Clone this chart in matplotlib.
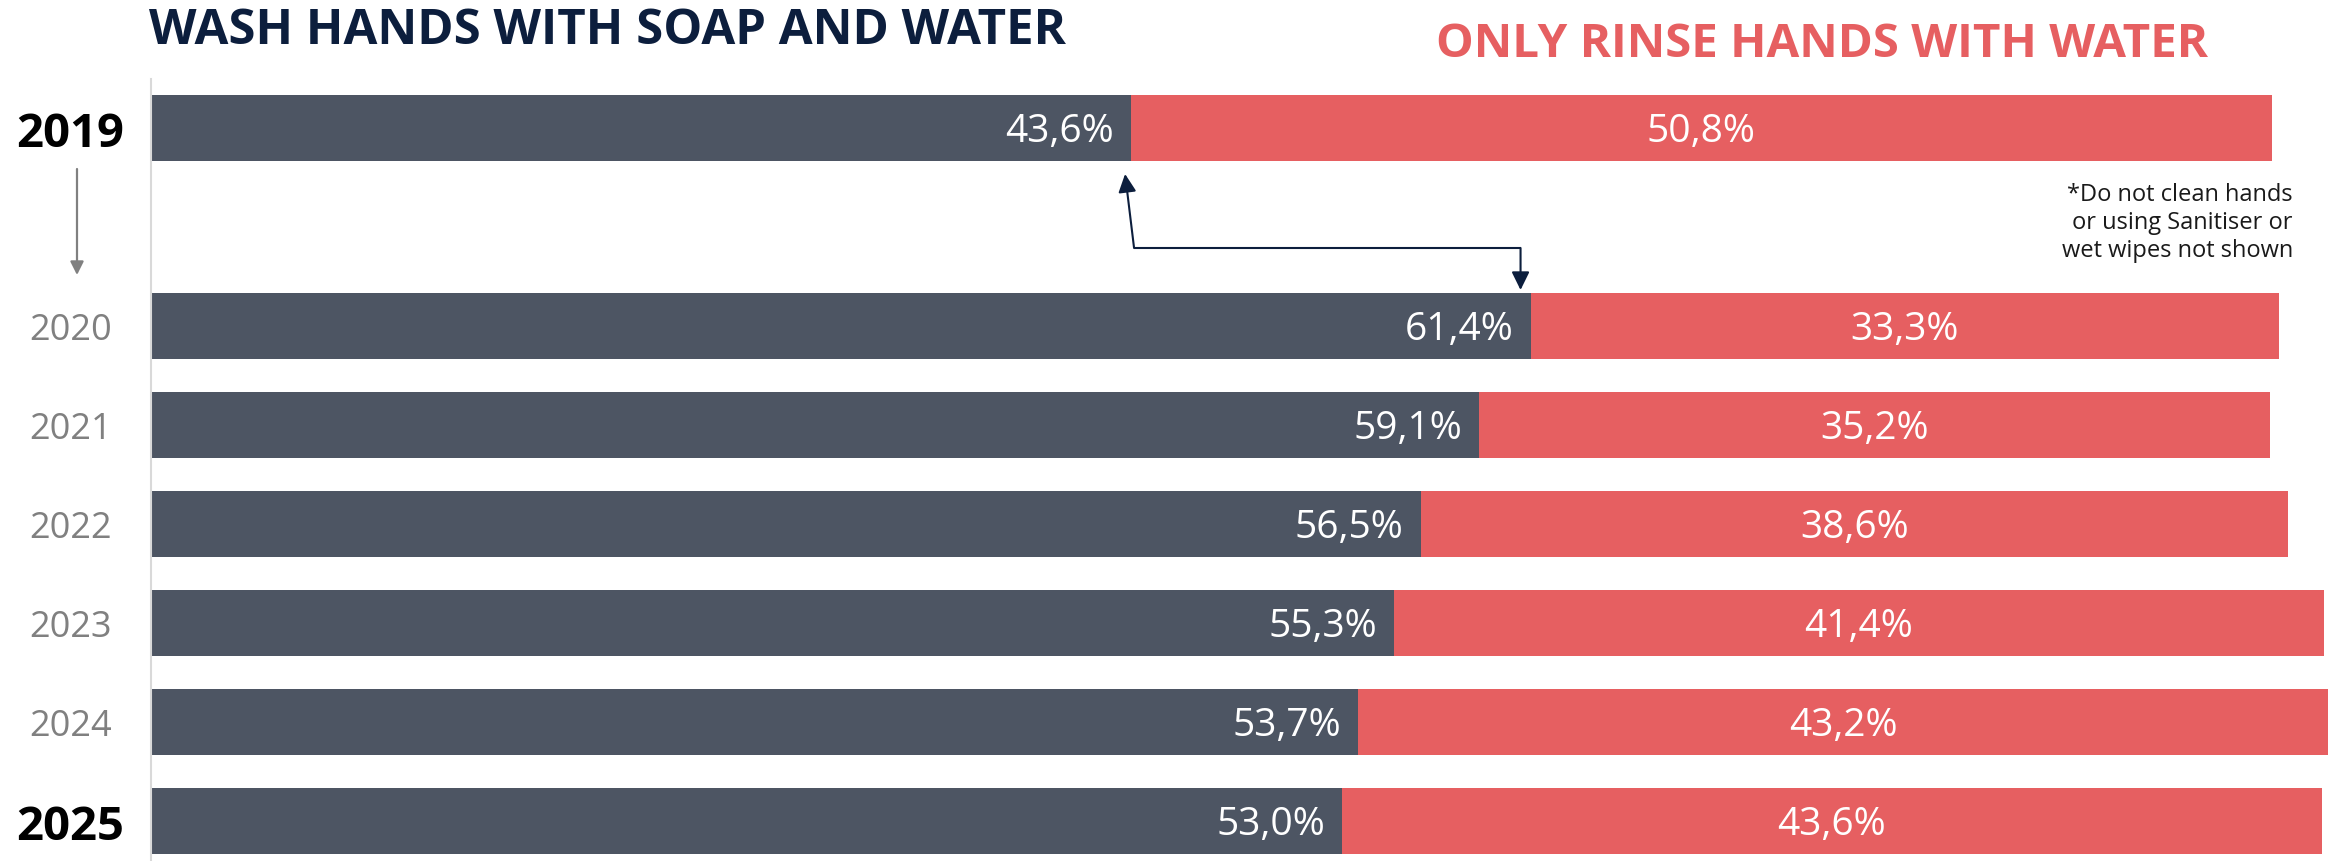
import matplotlib
matplotlib.use('Agg')
import matplotlib.pyplot as plt
from matplotlib.transforms import blended_transform_factory

years = ['2019', '2020', '2021', '2022', '2023', '2024', '2025']
soap = [43.6, 61.4, 59.1, 56.5, 55.3, 53.7, 53.0]
rinse = [50.8, 33.3, 35.2, 38.6, 41.4, 43.2, 43.6]

title_soap = 'WASH HANDS WITH SOAP AND WATER'
title_rinse = 'ONLY RINSE HANDS WITH WATER'
note = '*Do not clean hands\nor using Sanitiser or\nwet wipes not shown'

dark = '#4d5563'
red = '#e65f61'
navy = '#0c1e3d'
grey = '#808080'

plt.rcParams['font.family'] = ['Open Sans', 'DejaVu Sans']

W, H = 2336, 862
fig = plt.figure(figsize=(W / 100, H / 100), dpi=100)
px = 22.47  # pixels per percentage point
x0 = 151
ax = fig.add_axes([x0 / W, 0, 97 * px / W, (H - 80) / H])

# 2019 sits one row apart from the later years
rows = [0] + list(range(2, 2 + len(years) - 1))
ax.set_xlim(0, 97)
ax.set_ylim((H - 129) / 99, (80 - 129) / 99)

ax.barh(rows, soap, height=0.667, color=dark)
ax.barh(rows, rinse, left=soap, height=0.667, color=red)

for r, s, w in zip(rows, soap, rinse):
    ax.text(s - 0.75, r + 0.03, f'{s:.1f}%'.replace('.', ','), color='white',
            fontsize=28, ha='right', va='center')
    ax.text(s + w / 2, r + 0.03, f'{w:.1f}%'.replace('.', ','), color='white',
            fontsize=28, ha='center', va='center')

for side in ['top', 'right', 'bottom']:
    ax.spines[side].set_visible(False)
ax.spines['left'].set_color('#d9d9d9')
ax.spines['left'].set_linewidth(1.5)
ax.set_xticks([])
ax.set_yticks(rows)
ax.set_yticklabels(years)
ax.tick_params(axis='y', length=0, pad=58)
last = len(years) - 1
for i, lab in enumerate(ax.get_yticklabels()):
    lab.set_ha('center')
    if i in (0, last):
        lab.set_fontsize(34)
        lab.set_fontweight('bold')
        lab.set_color('black')
    else:
        lab.set_fontsize(26)
        lab.set_color(grey)

# grey arrow between the 2019 row and the rest
trans = blended_transform_factory(fig.transFigure, ax.transData)
ax.annotate('', xy=(77 / W, (276 - 129) / 99), xytext=(77 / W, (170 - 129) / 99),
            xycoords=trans, textcoords=trans,
            arrowprops=dict(arrowstyle='-|>', color=grey, lw=1.6,
                            mutation_scale=20, shrinkA=0, shrinkB=0))

# elbow arrow linking 2019 and 2020 soap shares
yk = (249 - 129) / 99
xa = soap[0] + 0.15
xb = soap[1] - 0.45
ax.plot([xa, xb], [yk, yk], color=navy, lw=1.5, solid_capstyle='butt')
head = dict(arrowstyle='-|>,head_length=0.55,head_width=0.27', color=navy, lw=1.5,
            mutation_scale=20, shrinkA=0, shrinkB=0)
ax.annotate('', xy=(xa - 0.4, (175 - 129) / 99), xytext=(xa, yk), arrowprops=head)
ax.annotate('', xy=(xb, (291 - 129) / 99), xytext=(xb, yk), arrowprops=head)

fig.text(149 / W, 1 - 44 / H, title_soap, color=navy, fontsize=35.4,
         fontweight='bold', ha='left', va='baseline')
fig.text(1436 / W, 1 - 57 / H, title_rinse, color=red, fontsize=34.2,
         fontweight='bold', ha='left', va='baseline')
fig.text(2293 / W, 1 - 183 / H, note, color='#1a1a1a', fontsize=17,
         ha='right', va='top', linespacing=1.22, multialignment='right')

fig.savefig('out.png', dpi=100)
